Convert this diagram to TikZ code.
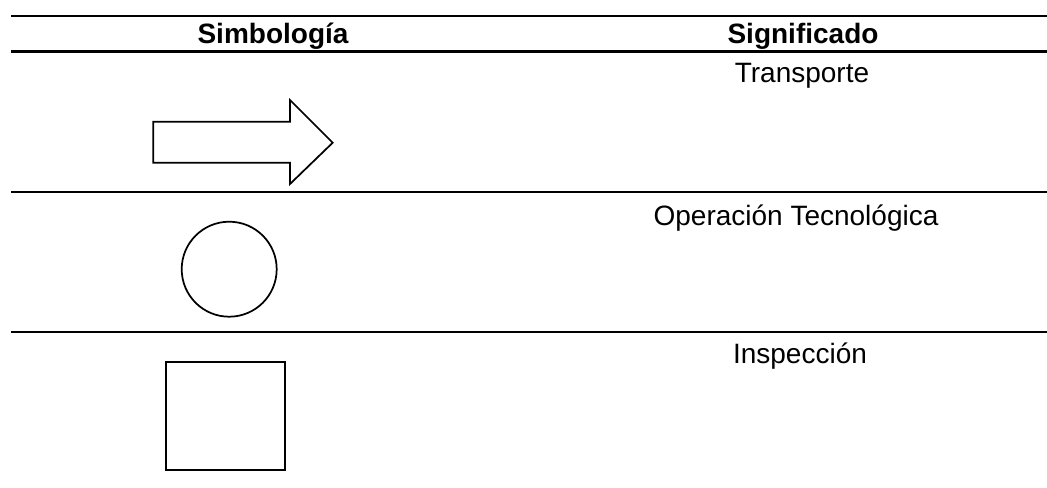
\documentclass[tikz,border=0pt]{standalone}
\usepackage{fontspec}
\setmainfont{Liberation Sans}
\begin{document}
\begin{tikzpicture}[x=0.75pt,y=-0.75pt,
  rule/.style={line width=1.6pt},
  symbol/.style={line width=1.3pt,line join=miter},
  head/.style={anchor=base,inner sep=0pt,font=\fontsize{21}{25}\selectfont\bfseries},
  meaning/.style={anchor=base,inner sep=0pt,font=\fontsize{21}{25}\selectfont}]
\useasboundingbox (0,0) rectangle (1047,487);

% horizontal rules of the table
\draw[rule] (11,16) -- (1047,16);
\draw[rule] (11,51.5) -- (1047,51.5);
\draw[rule] (11,192) -- (1047,192);
\draw[rule] (11,332) -- (1047,332);

% column headings
\node[head] (hsym) at (273,43) {Simbología};
\node[head] (hsig) at (803,43) {Significado};

% row 1: transport
\draw[symbol] (153.3,121.7) -- (290,121.7) -- (290,100) -- (332.7,142.7)
  -- (290,184) -- (290,162.7) -- (153.3,162.7) -- cycle;
\node[meaning] (transp) at (802,82) {Transporte};

% row 2: technological operation
\draw[symbol] (229.2,269.2) circle[radius=47.5];
\node[meaning] (oper) at (796,225) {Operación Tecnológica};

% row 3: inspection
\draw[symbol] (165.7,361.7) rectangle (285,470);
\node[meaning] (insp) at (800,363) {Inspección};
\end{tikzpicture}
\end{document}
